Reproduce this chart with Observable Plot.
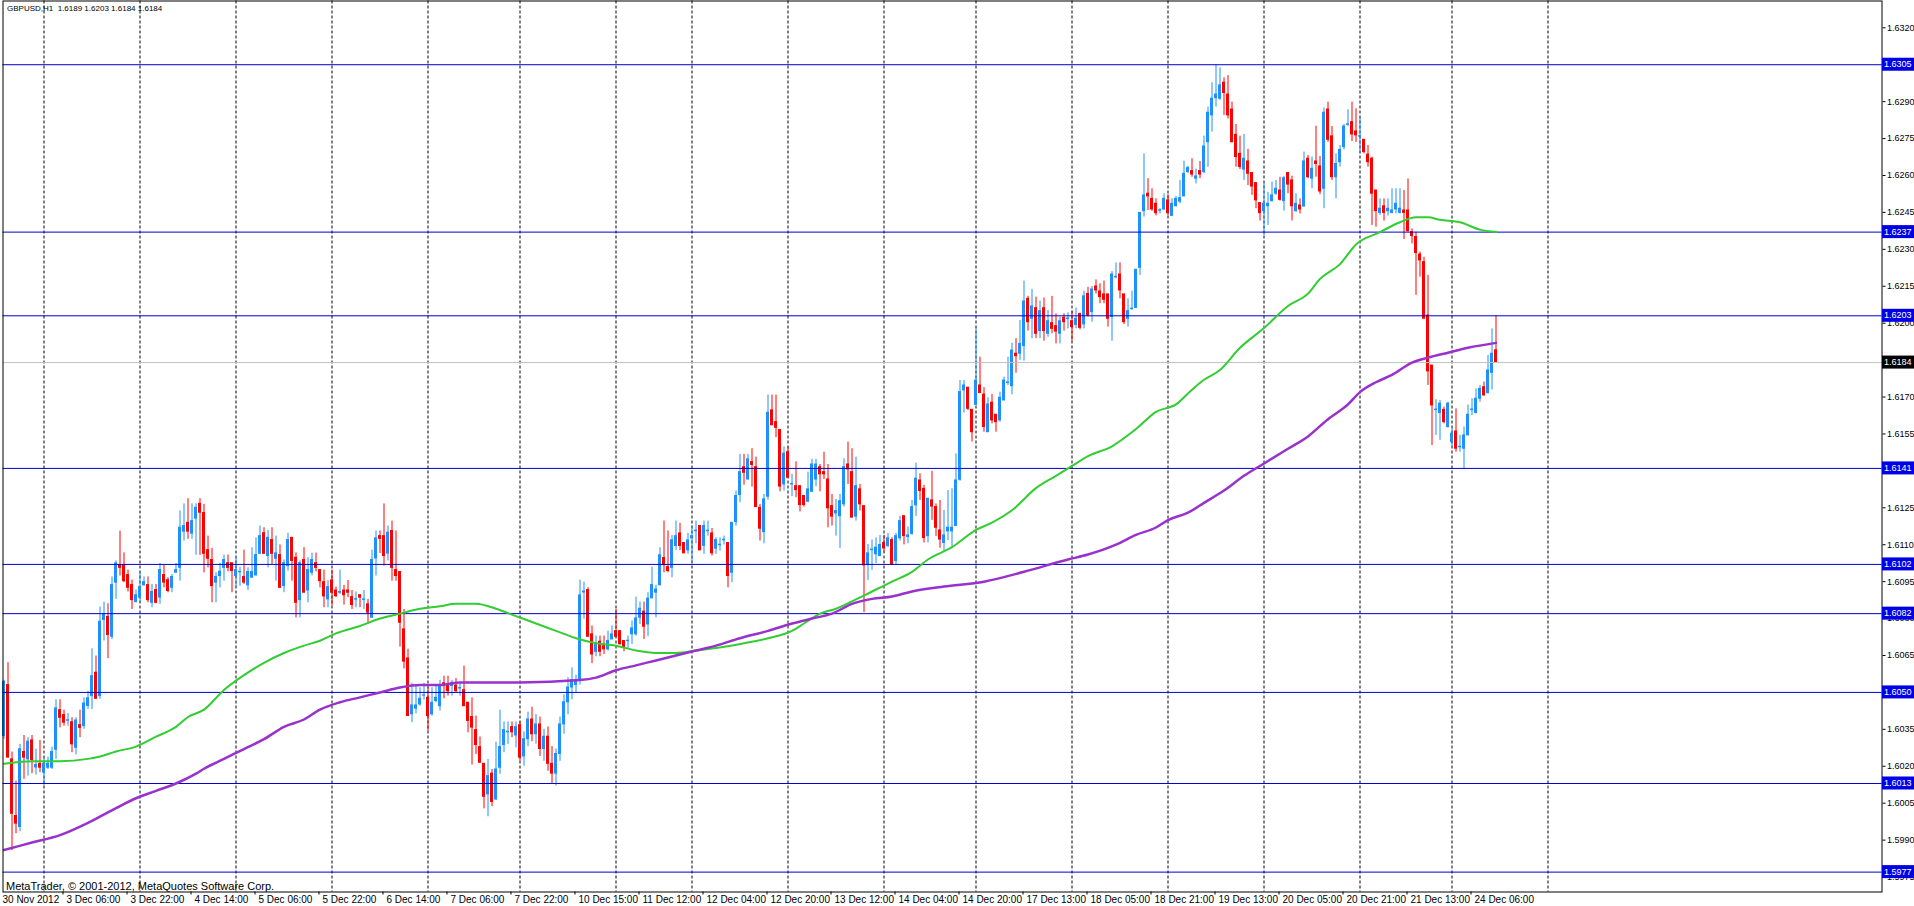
<!DOCTYPE html>
<html>
<head>
<meta charset="utf-8">
<script src="https://cdn.jsdelivr.net/npm/d3@7"></script>
<script src="https://cdn.jsdelivr.net/npm/@observablehq/plot@0.6"></script>
<style>
  html, body { margin: 0; padding: 0; background: #ffffff; }
  #chart { width: 1914px; height: 906px; overflow: hidden; }
</style>
</head>
<body>
<div id="chart"></div>
<script>
// ---------------- DATA ----------------
const titleText = "GBPUSD,H1  1.6189 1.6203 1.6184 1.6184";
const creditText = "MetaTrader, \u00a9 2001-2012, MetaQuotes Software Corp.";

// hourly bars, index 0 = 30 Nov 2012 14:00
const open = [
1.60323,1.60530,1.60228,1.59998,1.59953,1.60258,1.60228,1.60305,1.60195,1.60210,
1.60174,1.60194,1.60194,1.60267,1.60428,1.60408,1.60385,1.60379,1.60275,1.60367,
1.60363,1.60445,1.60485,1.60580,1.60485,1.60794,1.60807,1.60726,1.60946,1.61017,
1.61017,1.60977,1.60936,1.60867,1.60885,1.60935,1.60936,1.60864,1.60916,1.60885,
1.60977,1.60956,1.60925,1.60986,1.61006,1.61153,1.61189,1.61145,1.61206,1.61266,
1.61229,1.61078,1.61038,1.60946,1.60973,1.61006,1.61025,1.61025,1.60973,1.60988,
1.60969,1.60935,1.60966,1.60975,1.61063,1.61147,1.61054,1.61119,1.61043,1.61058,
1.60932,1.61013,1.61128,1.61047,1.60875,1.61038,1.60914,1.60986,1.61025,1.60997,
1.60948,1.60878,1.60955,1.60914,1.60905,1.60914,1.60914,1.60887,1.60877,1.60895,
1.60876,1.60858,1.60803,1.61044,1.61135,1.61135,1.61064,1.61156,1.60997,1.60989,
1.60756,1.60638,1.60411,1.60434,1.60451,1.60487,1.60478,1.60411,1.60465,1.60444,
1.60537,1.60532,1.60526,1.60528,1.60516,1.60509,1.60458,1.60400,1.60347,1.60278,
1.60210,1.60086,1.60170,1.60065,1.60194,1.60286,1.60338,1.60359,1.60325,1.60367,
1.6024,1.6031,1.6039,1.6033,1.6037,1.6027,1.6032,1.6021,1.6017,1.6025,
1.6037,1.6046,1.6052,1.6053,1.60553,1.60906,1.60916,1.60736,1.60665,1.60706,
1.60688,1.60675,1.60715,1.60749,1.60749,1.60709,1.60708,1.60736,1.60736,1.60803,
1.60828,1.60776,1.60882,1.60905,1.60935,1.61046,1.61009,1.61006,1.61095,1.61146,
1.61107,1.61077,1.61126,1.61155,1.61176,1.61095,1.61155,1.61146,1.61084,1.61098,
1.61118,1.61107,1.60986,1.61192,1.61302,1.61415,1.61365,1.61436,1.61415,1.61250,
1.61151,1.61295,1.61646,1.61598,1.61566,1.61345,1.61476,1.61345,1.61338,1.61338,
1.61298,1.61275,1.61315,1.61365,1.61415,1.61395,1.61365,1.61257,1.61227,1.61216,
1.61264,1.61426,1.61395,1.61214,1.61325,1.61257,1.61020,1.61078,1.61061,1.61054,
1.61107,1.61095,1.61119,1.61034,1.61126,1.61216,1.61131,1.61144,1.61260,1.61361,
1.61327,1.61135,1.61280,1.61253,1.61158,1.61107,1.61154,1.61154,1.61176,1.61364,
1.61727,1.61738,1.61648,1.61668,1.61747,1.61710,1.61557,1.61677,1.61628,1.61605,
1.61686,1.61757,1.61744,1.61876,1.61876,1.61907,1.62099,1.62018,1.62061,1.61968,
1.62061,1.61957,1.62000,1.61988,1.61957,1.62022,1.62017,1.62008,1.61993,1.62038,
1.61995,1.62119,1.62045,1.62149,1.62129,1.62117,1.62117,1.62025,1.62186,1.62198,
1.62117,1.62018,1.62057,1.62062,1.62225,1.62455,1.62526,1.62505,1.62485,1.62457,
1.62462,1.62499,1.62436,1.62475,1.62494,1.62515,1.62614,1.62618,1.62587,1.62618,
1.62614,1.62735,1.62844,1.62914,1.62912,1.62977,1.62929,1.62868,1.62765,1.62688,
1.62624,1.62657,1.62610,1.62569,1.62488,1.62455,1.62475,1.62496,1.62526,1.62539,
1.62496,1.62610,1.62580,1.62455,1.62478,1.62474,1.62668,1.62587,1.62657,1.62637,
1.62546,1.62868,1.62759,1.62593,1.62654,1.62715,1.62806,1.62817,1.62779,1.62758,
1.62745,1.62685,1.62668,1.62539,1.62448,1.62475,1.62455,1.62448,1.62462,1.62448,
1.62458,1.62458,1.62370,1.62350,1.62279,1.62248,1.62031,1.61828,1.61647,1.61635,
1.61648,1.61578,1.61517,1.61560,1.61496,1.61490,1.61544,1.61647,1.61635,1.61693,
1.61740,1.61716,1.61798,1.6189];

const high = [
1.60549,1.60621,1.60258,1.60140,1.60289,1.60325,1.60316,1.60325,1.60269,1.60305,
1.60237,1.60237,1.60278,1.60470,1.60470,1.60428,1.60415,1.60397,1.60397,1.60428,
1.60478,1.60505,1.60677,1.60648,1.60847,1.60867,1.60860,1.60969,1.61034,1.61155,
1.61067,1.60997,1.60956,1.60916,1.60989,1.60969,1.60969,1.60939,1.60939,1.61024,
1.61017,1.60966,1.60979,1.61024,1.61237,1.61266,1.61287,1.61266,1.61266,1.61287,
1.61264,1.61135,1.61085,1.60986,1.61025,1.61058,1.61058,1.61025,1.61047,1.61009,
1.61078,1.61006,1.61088,1.61128,1.61176,1.61169,1.61158,1.61169,1.61135,1.61099,
1.61038,1.61147,1.61128,1.61067,1.61034,1.61088,1.61047,1.61066,1.61066,1.60997,
1.60997,1.60955,1.60997,1.60928,1.60997,1.60935,1.60955,1.60914,1.60908,1.60895,
1.60914,1.60878,1.61078,1.61156,1.61156,1.61266,1.61176,1.61196,1.61156,1.60989,
1.60837,1.60675,1.60537,1.60528,1.60519,1.60537,1.60519,1.60519,1.60528,1.60549,
1.60566,1.60566,1.60549,1.60557,1.60537,1.60607,1.60458,1.60478,1.60404,1.60319,
1.60210,1.60228,1.60187,1.60298,1.60428,1.60380,1.60380,1.60380,1.60380,1.60380,
1.6034,1.6042,1.6044,1.6041,1.6040,1.6035,1.6036,1.6028,1.6027,1.6040,
1.6049,1.6056,1.6060,1.6057,1.60956,1.60948,1.60925,1.60770,1.60729,1.60729,
1.60729,1.60749,1.60770,1.60837,1.60749,1.60709,1.60729,1.60790,1.60887,1.60867,
1.60867,1.60905,1.61009,1.60936,1.61088,1.61196,1.61156,1.61138,1.61196,1.61187,
1.61107,1.61146,1.61176,1.61196,1.61176,1.61196,1.61196,1.61166,1.61128,1.61128,
1.61135,1.61107,1.61189,1.61318,1.61467,1.61467,1.61467,1.61490,1.61456,1.61264,
1.61304,1.61708,1.61708,1.61708,1.61566,1.61497,1.61497,1.61386,1.61437,1.61338,
1.61298,1.61395,1.61447,1.61447,1.61426,1.61476,1.61426,1.61304,1.61284,1.61304,
1.61449,1.61517,1.61490,1.61456,1.61345,1.61257,1.61101,1.61119,1.61128,1.61138,
1.61138,1.61146,1.61128,1.61146,1.61216,1.61216,1.61172,1.61280,1.61431,1.61388,
1.61341,1.61287,1.61398,1.61266,1.61280,1.61239,1.61320,1.61327,1.61469,1.61767,
1.61767,1.61738,1.61648,1.61977,1.61862,1.61738,1.61697,1.61710,1.61628,1.61720,
1.61781,1.61862,1.61919,1.61937,1.62011,1.62171,1.62109,1.62137,1.62106,1.62090,
1.62102,1.62052,1.62109,1.62038,1.62025,1.62038,1.62042,1.62049,1.62061,1.62038,
1.62130,1.62146,1.62149,1.62176,1.62160,1.62171,1.62117,1.62210,1.62245,1.62245,
1.62117,1.62099,1.62130,1.62217,1.62448,1.62688,1.62587,1.62546,1.62505,1.62465,
1.62526,1.62522,1.62505,1.62515,1.62580,1.62658,1.62637,1.62668,1.62626,1.62657,
1.62760,1.62878,1.62977,1.63050,1.63037,1.62997,1.63006,1.62898,1.62807,1.62760,
1.62767,1.62706,1.62610,1.62569,1.62488,1.62566,1.62532,1.62573,1.62580,1.62593,
1.62597,1.62610,1.62597,1.62526,1.62505,1.62695,1.62681,1.62675,1.62800,1.62677,
1.62874,1.62898,1.62799,1.62688,1.62722,1.62807,1.62867,1.62898,1.62871,1.62837,
1.62745,1.62722,1.62675,1.62539,1.62505,1.62505,1.62505,1.62546,1.62546,1.62546,
1.62539,1.62586,1.62383,1.62370,1.62289,1.62268,1.62194,1.61828,1.61689,1.61686,
1.61659,1.61679,1.61571,1.61652,1.61544,1.61578,1.61668,1.61693,1.61733,1.61747,
1.61761,1.61869,1.61977,1.6203];

const low = [
1.60310,1.60235,1.59858,1.59926,1.59934,1.60147,1.60160,1.60170,1.60164,1.60174,
1.60120,1.60187,1.60187,1.60228,1.60356,1.60363,1.60363,1.60255,1.60246,1.60316,
1.60350,1.60431,1.60431,1.60474,1.60472,1.60709,1.60637,1.60715,1.60878,1.60973,
1.60946,1.60908,1.60837,1.60864,1.60864,1.60932,1.60864,1.60844,1.60860,1.60858,
1.60925,1.60905,1.60905,1.60986,1.60952,1.61115,1.61122,1.61122,1.61057,1.61057,
1.60986,1.61006,1.60864,1.60864,1.60925,1.60952,1.60990,1.60905,1.60925,1.60932,
1.60939,1.60914,1.60966,1.60975,1.61063,1.61063,1.61006,1.61020,1.60952,1.60925,
1.60905,1.60993,1.60952,1.60803,1.60803,1.60905,1.60864,1.60973,1.60990,1.60925,
1.60844,1.60844,1.60851,1.60885,1.60898,1.60855,1.60885,1.60837,1.60844,1.60844,
1.60837,1.60776,1.60803,1.60973,1.61064,1.61013,1.61034,1.60952,1.60952,1.60684,
1.60596,1.60404,1.60377,1.60413,1.60444,1.60469,1.60343,1.60404,1.60458,1.60424,
1.60474,1.60485,1.60485,1.60499,1.60485,1.60444,1.60336,1.60205,1.60248,1.60214,
1.60027,1.59995,1.60036,1.60061,1.60167,1.60255,1.60289,1.60316,1.60275,1.60221,
1.6020,1.6028,1.6030,1.6029,1.6024,1.6022,1.6018,1.6013,1.6012,1.6022,
1.6033,1.6041,1.6047,1.6050,1.60530,1.60797,1.60726,1.60617,1.60645,1.60645,
1.60654,1.60668,1.60715,1.60726,1.60695,1.60665,1.60675,1.60695,1.60729,1.60776,
1.60715,1.60726,1.60882,1.60803,1.60935,1.60986,1.60986,1.60966,1.61077,1.61077,
1.61065,1.61061,1.61027,1.61104,1.61077,1.61061,1.61135,1.61054,1.61061,1.61074,
1.61099,1.60925,1.60946,1.61176,1.61271,1.61342,1.61363,1.61334,1.61253,1.61115,
1.61104,1.61281,1.61585,1.61535,1.61315,1.61318,1.61372,1.61295,1.61291,1.61233,
1.61253,1.61271,1.61315,1.61336,1.61315,1.61365,1.61169,1.61176,1.61135,1.61085,
1.61253,1.61345,1.61210,1.61196,1.61237,1.60824,1.60955,1.60996,1.61023,1.61054,
1.61071,1.61088,1.61017,1.61020,1.61115,1.61099,1.61104,1.61138,1.61215,1.61280,
1.61107,1.61107,1.61199,1.61134,1.61086,1.61070,1.61117,1.61090,1.61176,1.61358,
1.61635,1.61645,1.61517,1.61668,1.61716,1.61557,1.61557,1.61591,1.61557,1.61598,
1.61686,1.61747,1.61709,1.61797,1.61849,1.61846,1.61968,1.61937,1.61937,1.61937,
1.61927,1.61943,1.61957,1.61916,1.61916,1.61968,1.61977,1.61927,1.61977,1.61973,
1.61977,1.62025,1.62004,1.62119,1.62079,1.62079,1.61984,1.61927,1.62180,1.62099,
1.61995,1.61984,1.62052,1.62062,1.62194,1.62431,1.62458,1.62455,1.62436,1.62444,
1.62458,1.62436,1.62436,1.62475,1.62485,1.62515,1.62607,1.62593,1.62566,1.62587,
1.62607,1.62634,1.62776,1.62878,1.62905,1.62844,1.62830,1.62735,1.62634,1.62624,
1.62580,1.62559,1.62519,1.62465,1.62415,1.62356,1.62397,1.62492,1.62519,1.62496,
1.62455,1.62526,1.62415,1.62451,1.62444,1.62471,1.62587,1.62546,1.62593,1.62522,
1.62465,1.62735,1.62580,1.62505,1.62634,1.62704,1.62799,1.62738,1.62735,1.62688,
1.62688,1.62634,1.62397,1.62390,1.62438,1.62415,1.62435,1.62444,1.62444,1.62444,
1.62340,1.62373,1.62322,1.62113,1.62187,1.62018,1.61747,1.61503,1.61544,1.61524,
1.61591,1.61574,1.61497,1.61476,1.61476,1.61408,1.61544,1.61625,1.61632,1.61679,
1.61706,1.61713,1.61729,1.6184];

const close = [
1.60543,1.60235,1.60007,1.59967,1.60269,1.60235,1.60300,1.60225,1.60205,1.60194,
1.60210,1.60210,1.60258,1.60435,1.60397,1.60377,1.60387,1.60289,1.60386,1.60356,
1.60455,1.60476,1.60566,1.60474,1.60787,1.60817,1.60733,1.60936,1.61024,1.61006,
1.60952,1.60925,1.60875,1.60895,1.60928,1.60948,1.60875,1.60908,1.60864,1.60997,
1.60946,1.60912,1.60969,1.60997,1.61169,1.61176,1.61153,1.61196,1.61250,1.61230,
1.61063,1.61043,1.60932,1.60969,1.60990,1.61038,1.61006,1.60993,1.60997,1.60990,
1.60946,1.60989,1.60989,1.61058,1.61135,1.61063,1.61128,1.61063,1.61065,1.60925,
1.61025,1.61119,1.61034,1.60864,1.61025,1.60905,1.60997,1.61038,1.61006,1.60952,
1.60890,1.60928,1.60905,1.60891,1.60908,1.60895,1.60905,1.60855,1.60879,1.60885,
1.60878,1.60824,1.61038,1.61126,1.61124,1.61054,1.61149,1.61006,1.60973,1.60783,
1.60625,1.60404,1.60447,1.60447,1.60474,1.60488,1.60404,1.60458,1.60478,1.60528,
1.60526,1.60505,1.60539,1.60505,1.60518,1.60444,1.60384,1.60357,1.60286,1.60214,
1.60076,1.60160,1.60055,1.60187,1.60278,1.60347,1.60340,1.60338,1.60359,1.60235,
1.6031,1.6039,1.6033,1.6037,1.6027,1.6032,1.6021,1.6017,1.6025,1.6037,
1.6046,1.6052,1.6055,1.6055,1.60894,1.60910,1.60726,1.60654,1.60695,1.60665,
1.60675,1.60709,1.60736,1.60726,1.60695,1.60684,1.60710,1.60760,1.60801,1.60840,
1.60767,1.60881,1.60936,1.60918,1.61057,1.61017,1.60993,1.61118,1.61135,1.61095,
1.61065,1.61118,1.61135,1.61157,1.61077,1.61176,1.61157,1.61065,1.61119,1.61100,
1.61120,1.60973,1.61189,1.61298,1.61395,1.61392,1.61447,1.61424,1.61253,1.61165,
1.61284,1.61636,1.61585,1.61575,1.61336,1.61470,1.61372,1.61347,1.61322,1.61261,
1.61261,1.61325,1.61426,1.61426,1.61386,1.61386,1.61248,1.61214,1.61237,1.61277,
1.61415,1.61406,1.61210,1.61338,1.61264,1.61016,1.61065,1.61080,1.61088,1.61099,
1.61085,1.61126,1.61020,1.61135,1.61196,1.61135,1.61138,1.61253,1.61368,1.61318,
1.61127,1.61287,1.61255,1.61169,1.61121,1.61138,1.61169,1.61169,1.61361,1.61720,
1.61747,1.61652,1.61557,1.61767,1.61716,1.61578,1.61670,1.61605,1.61598,1.61697,
1.61767,1.61759,1.61889,1.61866,1.61916,1.62088,1.62004,1.62068,1.61957,1.62049,
1.61968,1.62008,1.61977,1.61966,1.62008,1.62004,1.62019,1.61984,1.62018,1.61981,
1.62109,1.62031,1.62137,1.62133,1.62106,1.62095,1.62018,1.62198,1.62188,1.62133,
1.62004,1.62049,1.62059,1.62217,1.62448,1.62519,1.62515,1.62462,1.62447,1.62459,
1.62505,1.62447,1.62485,1.62505,1.62508,1.62607,1.62630,1.62604,1.62596,1.62604,
1.62718,1.62855,1.62912,1.62929,1.62966,1.62935,1.62844,1.62735,1.62675,1.62634,
1.62668,1.62607,1.62555,1.62499,1.62447,1.62485,1.62485,1.62519,1.62546,1.62501,
1.62589,1.62563,1.62475,1.62485,1.62462,1.62657,1.62593,1.62627,1.62647,1.62535,
1.62855,1.62745,1.62593,1.62647,1.62704,1.62799,1.62808,1.62767,1.62763,1.62760,
1.62695,1.62654,1.62526,1.62455,1.62465,1.62448,1.62465,1.62458,1.62485,1.62465,
1.62448,1.62373,1.62354,1.62285,1.62255,1.62018,1.61804,1.61666,1.61649,1.61673,
1.61598,1.61673,1.61551,1.61490,1.61498,1.61544,1.61628,1.61649,1.61693,1.61733,
1.61706,1.61808,1.61876,1.6184];

// moving averages (green = faster, purple = slower)
const greenBars = [0,7,14,21,24,28,33,38,43,46,50,55,60,65,70,75,79,83,89,94,99,104,109,113,118,123,128,133,138,143,148,153,158,163,168,173,178,185,191,197,200,204,208,212,217,222,227,231,237,243,247,252,258,263,267,271,277,283,288,293,297,300,304,309,315,321,326,329,334,338,344,349,353,356,359,364,369,373];
const greenVals = [1.6021,1.6022,1.6022,1.6023,1.6024,1.6026,1.6028,1.6032,1.6036,1.6040,1.6043,1.6051,1.6057,1.6062,1.6066,1.6069,1.6071,1.6074,1.6077,1.6080,1.6082,1.6084,1.6085,1.6086,1.6086,1.6084,1.6081,1.6078,1.6075,1.6072,1.6070,1.6069,1.6067,1.6066,1.6066,1.6067,1.6068,1.6070,1.6072,1.6075,1.6078,1.6082,1.6084,1.6087,1.6091,1.6095,1.6099,1.6104,1.6109,1.6116,1.6119,1.6124,1.6133,1.6138,1.6142,1.6146,1.6150,1.6157,1.6164,1.6167,1.6173,1.6177,1.6181,1.6190,1.6198,1.6207,1.6212,1.6218,1.6224,1.6232,1.6237,1.6241,1.6243,1.6243,1.6242,1.6241,1.6238,1.6237];
const purpleBars = [0,7,14,21,28,33,38,43,48,50,55,60,65,70,75,79,84,89,94,99,104,109,114,120,129,144,148,153,158,163,168,173,178,184,191,197,202,207,212,217,222,227,235,245,255,266,271,278,283,288,291,296,300,305,310,315,321,326,331,336,339,343,347,352,356,361,366,373];
const purpleVals = [1.5986,1.5989,1.5992,1.5997,1.6003,1.6007,1.6010,1.6013,1.6017,1.6019,1.6023,1.6027,1.6031,1.6036,1.6039,1.6043,1.6046,1.6048,1.6050,1.6052,1.6053,1.6053,1.6054,1.6054,1.6054,1.6055,1.6056,1.6059,1.6061,1.6063,1.6065,1.6067,1.6069,1.6072,1.6075,1.6078,1.6080,1.6082,1.6086,1.6088,1.6089,1.6091,1.6093,1.6095,1.6099,1.6104,1.6106,1.6110,1.6114,1.6117,1.6120,1.6123,1.6127,1.6132,1.6138,1.6143,1.6149,1.6154,1.6161,1.6167,1.6172,1.6176,1.6179,1.6184,1.6186,1.6188,1.6190,1.6192];

// horizontal levels drawn on the chart and the current bid
const levels = [1.6305, 1.6237, 1.6203, 1.6141, 1.6102, 1.6082, 1.6050, 1.6013, 1.5977];
const bid = 1.6184;

// price scale ticks
const yTicks = [1.5975,1.5990,1.6005,1.6020,1.6035,1.6050,1.6065,1.6080,1.6095,1.6110,1.6125,1.6140,1.6155,1.6170,1.6185,1.6200,1.6215,1.6230,1.6245,1.6260,1.6275,1.6290,1.6305,1.6320];

// time scale labels (bar index -> text) and day separators
const labelBars = [0,16,32,48,64,80,96,112,128,144,160,176,192,208,224,240,256,272,288,304,320,336,352,368];
const labelText = ["30 Nov 2012","3 Dec 06:00","3 Dec 22:00","4 Dec 14:00","5 Dec 06:00","5 Dec 22:00","6 Dec 14:00","7 Dec 06:00","7 Dec 22:00","10 Dec 15:00","11 Dec 12:00","12 Dec 04:00","12 Dec 20:00","13 Dec 12:00","14 Dec 04:00","14 Dec 20:00","17 Dec 13:00","18 Dec 05:00","18 Dec 21:00","19 Dec 13:00","20 Dec 05:00","20 Dec 21:00","21 Dec 13:00","24 Dec 06:00"];
const gridBars = [10,34,58,82,106,129,153,172,196,220,243,267,291,315,339,362,386];

// ---------------- STYLE ----------------
const UP = "#1e90ff", DOWN = "#ff0000";
const LEVEL = "#0000cd", LEVELBOX = "#0000e6";
const FONT = "'Liberation Sans', Arial, sans-serif";

const candles = open.map((o, i) => ({
  i, o, h: high[i], l: low[i], c: close[i],
  col: close[i] >= o ? UP : DOWN
}));
const green = greenBars.map((b, k) => ({b, v: greenVals[k]}));
const purple = purpleBars.map((b, k) => ({b, v: purpleVals[k]}));
const labelOf = new Map(labelBars.map((b, k) => [b, labelText[k]]));

const chart = Plot.plot({
  width: 1914,
  height: 906,
  marginLeft: 2.5,
  marginRight: 32.5,
  marginTop: 0.5,
  marginBottom: 14.5,
  x: {domain: [-0.25, 469.5], axis: null},
  y: {domain: [1.596892, 1.633089], axis: null},
  color: {type: "identity"},
  style: {fontFamily: FONT, fontSize: "10px", background: "#ffffff", color: "#000000"},
  marks: [
    Plot.ruleX(gridBars, {x: d => d, stroke: "#000000", strokeDasharray: "3,2", strokeWidth: 1}),
    Plot.ruleX(candles, {x: "i", y1: "l", y2: "h", stroke: "col", strokeWidth: 1}),
    Plot.rect(candles, {
      x1: d => d.i - 0.375, x2: d => d.i + 0.375,
      y1: "o", y2: "c", fill: "col",
      insetTop: -0.5, insetBottom: -0.5
    }),
    Plot.ruleY([bid], {y: d => d, stroke: "#c0c0c0", strokeWidth: 1}),
    Plot.ruleY(levels, {y: d => d, stroke: LEVEL, strokeWidth: 1}),
    Plot.line(green, {x: "b", y: "v", stroke: "#32cd32", strokeWidth: 2, curve: "monotone-x"}),
    Plot.line(purple, {x: "b", y: "v", stroke: "#9932cc", strokeWidth: 2.5, curve: "monotone-x"}),
    Plot.frame({stroke: "#000000", strokeWidth: 1}),
    Plot.axisY({
      anchor: "right", ticks: yTicks, tickFormat: d => d.toFixed(4),
      tickSize: 3, tickPadding: 2, fontSize: 9
    }),
    Plot.axisX({ticks: labelBars, tickSize: 3, tickFormat: () => "", dx: -5}),
    Plot.text(labelBars, {
      x: d => d, text: d => labelOf.get(d), frameAnchor: "bottom",
      textAnchor: "start", lineAnchor: "top", dx: -1.5, dy: 3.5, fontSize: 10
    }),
    Plot.text([titleText], {
      frameAnchor: "top-left", textAnchor: "start", lineAnchor: "top",
      dx: 4, dy: 4, fontSize: 8
    }),
    Plot.text([creditText], {
      frameAnchor: "bottom-left", textAnchor: "start", lineAnchor: "bottom",
      dx: 3, dy: -2, fontSize: 11
    })
  ]
});

// price boxes on the right scale, positioned with Plot's own y scale
const ys = chart.scale("y");
const svg = d3.select(chart);
const xBox = 1914 - 32;
const boxes = svg.append("g")
  .attr("font-family", FONT).attr("font-size", 9).attr("text-anchor", "start");
const boxItems = levels.map(v => ({v, fill: LEVELBOX})).concat([{v: bid, fill: "#000000"}]);
for (const b of boxItems) {
  const yc = ys.apply(b.v);
  boxes.append("rect")
    .attr("x", xBox).attr("y", yc - 6.5)
    .attr("width", 32).attr("height", 13)
    .attr("fill", b.fill);
  boxes.append("text")
    .attr("x", xBox + 2).attr("y", yc).attr("dy", "0.35em")
    .attr("text-anchor", "start")
    .attr("fill", "#ffffff")
    .text(b.v.toFixed(4));
}

document.getElementById("chart").appendChild(chart);
</script>
</body>
</html>
